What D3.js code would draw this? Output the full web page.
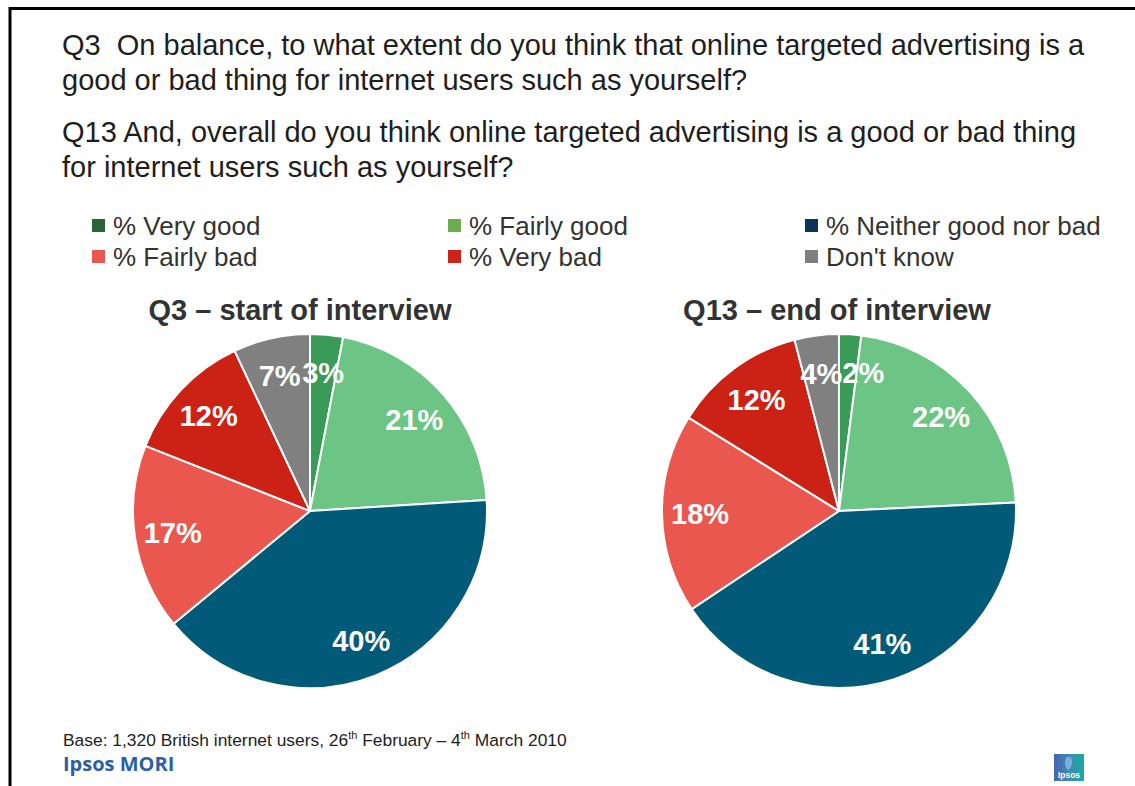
<!DOCTYPE html>
<html>
<head>
<meta charset="utf-8">
<script src="https://cdn.jsdelivr.net/npm/d3@7"></script>
<style>
  html, body { margin: 0; padding: 0; background: #fff; }
  svg { display: block; font-family: "Liberation Sans", Arial, sans-serif; }
</style>
</head>
<body>
<svg id="chart" width="1135" height="786"></svg>
<script>
// Response categories, in slice order (clockwise from 12 o'clock)
const categories = ["% Very good", "% Fairly good", "% Neither good nor bad", "% Fairly bad", "% Very bad", "Don't know"];
// Survey results, percent of respondents
const q3Values = [3, 21, 40, 17, 12, 7];
const q13Values = [2, 22, 41, 18, 12, 4];
const chartTitles = ["Q3 \u2013 start of interview", "Q13 \u2013 end of interview"];
// Slice fills and legend swatch fills
const sliceColors = ["#3a9a57", "#6cc585", "#005a78", "#e9574e", "#cc2215", "#808080"];
const legendColors = ["#2b6236", "#6aad4f", "#0c3456", "#e9574e", "#c9231a", "#7f7f7f"];
const questionLines = [
  "Q3  On balance, to what extent do you think that online targeted advertising is a",
  "good or bad thing for internet users such as yourself?",
  "Q13 And, overall do you think online targeted advertising is a good or bad thing",
  "for internet users such as yourself?"
];

const svg = d3.select("#chart");

// Slide frame (top and left rules)
svg.append("path")
  .attr("d", "M10,1000 L10,8.5 L1140,8.5")
  .attr("fill", "none").attr("stroke", "#000").attr("stroke-width", 3);

// Question text
const qY = [55, 90, 142, 177];
svg.selectAll("text.q").data(questionLines).join("text")
  .attr("class", "q")
  .attr("x", 62).attr("y", (d, i) => qY[i])
  .attr("font-size", 29).attr("fill", "#1e1e1e")
  .attr("xml:space", "preserve").style("white-space", "pre")
  .text(d => d);

// Legend: three columns, two rows
const legendCol = d3.scaleOrdinal().domain([0, 1, 2]).range([92, 448, 805]);
const legendRow = [226, 257];
const legend = svg.append("g").selectAll("g").data(categories).join("g")
  .attr("transform", (d, i) => `translate(${legendCol(i % 3)},${legendRow[Math.floor(i / 3)]})`);
legend.append("rect")
  .attr("x", 0).attr("y", -7).attr("width", 13).attr("height", 13)
  .attr("fill", (d, i) => legendColors[i]);
legend.append("text")
  .attr("x", 21).attr("y", 9)
  .attr("font-size", 26).attr("fill", "#333")
  .text(d => d);

// Pies
const radius = 177;
const labelRadius = 139;
const pieCenters = [[310, 511], [839, 511]];
const titleX = [300, 837];
const pie = d3.pie().sort(null).value(d => d);
const arc = d3.arc().innerRadius(0).outerRadius(radius);
const labelArc = d3.arc().innerRadius(labelRadius).outerRadius(labelRadius);

[q3Values, q13Values].forEach((vals, k) => {
  svg.append("text")
    .attr("x", titleX[k]).attr("y", 320)
    .attr("text-anchor", "middle")
    .attr("font-size", 29).attr("font-weight", "bold").attr("fill", "#333")
    .text(chartTitles[k]);

  const g = svg.append("g")
    .attr("transform", `translate(${pieCenters[k][0]},${pieCenters[k][1]})`);
  const arcs = pie(vals);
  g.selectAll("path").data(arcs).join("path")
    .attr("d", arc)
    .attr("fill", (d, i) => sliceColors[i])
    .attr("stroke", "#fff").attr("stroke-width", 2)
    .attr("stroke-linejoin", "round");

  const labels = g.selectAll("text").data(arcs).join("text")
    .attr("text-anchor", "middle").attr("dy", "0.36em")
    .attr("font-size", 29).attr("font-weight", "bold").attr("fill", "#fff")
    .text(d => d.data + "%");

  // Place at centroid, then push the later label clockwise out of any overlap
  const pos = arcs.map(d => labelArc.centroid(d));
  const widths = labels.nodes().map(n => n.getComputedTextLength());
  for (let i = 0; i < pos.length; i++) {
    const j = (i + 1) % pos.length;
    const a = pos[i], b = pos[j];
    if (Math.abs(a[1] - b[1]) < 24) {
      const left = a[0] < b[0] ? i : j, right = left === i ? j : i;
      const gap = (pos[right][0] - widths[right] / 2) - (pos[left][0] + widths[left] / 2);
      if (gap < 0) pos[right][0] -= gap;
    }
  }
  labels.attr("transform", (d, i) => `translate(${pos[i]})`);
});

// Footer note with superscript ordinals
const base = svg.append("text")
  .attr("x", 63).attr("y", 746)
  .attr("font-size", 17.4).attr("fill", "#222");
base.append("tspan").text("Base: 1,320 British internet users, 26");
base.append("tspan").attr("font-size", 11).attr("dy", -7).text("th");
base.append("tspan").attr("dy", 7).text(" February \u2013 4");
base.append("tspan").attr("font-size", 11).attr("dy", -7).text("th");
base.append("tspan").attr("dy", 7).text(" March 2010");

svg.append("text")
  .attr("x", 63).attr("y", 771)
  .attr("font-size", 20).attr("font-weight", "bold").attr("fill", "#2c5fa3")
  .attr("font-family", "'Open Sans', 'Liberation Sans', sans-serif")
  .text("Ipsos MORI");

// Small brand mark, bottom right
const defs = svg.append("defs");
const grad = defs.append("linearGradient").attr("id", "mark").attr("x1", 0).attr("x2", 1);
grad.append("stop").attr("offset", "0%").attr("stop-color", "#4a63b5");
grad.append("stop").attr("offset", "55%").attr("stop-color", "#3a8fb0");
grad.append("stop").attr("offset", "100%").attr("stop-color", "#19aaa0");
const mark = svg.append("g").attr("transform", "translate(1054,754)");
mark.append("rect").attr("width", 30).attr("height", 27).attr("fill", "url(#mark)");
mark.append("path").attr("d", "M13,3 q6,-1 5,6 q-1,6 -4,7 q-3,-2 -3,-7 q0,-5 2,-6z").attr("fill", "#8fb6e8").attr("opacity", 0.8);
mark.append("text").attr("x", 15).attr("y", 24).attr("text-anchor", "middle")
  .attr("font-size", 8.5).attr("font-weight", "bold").attr("fill", "#fff").text("Ipsos");
</script>
</body>
</html>
